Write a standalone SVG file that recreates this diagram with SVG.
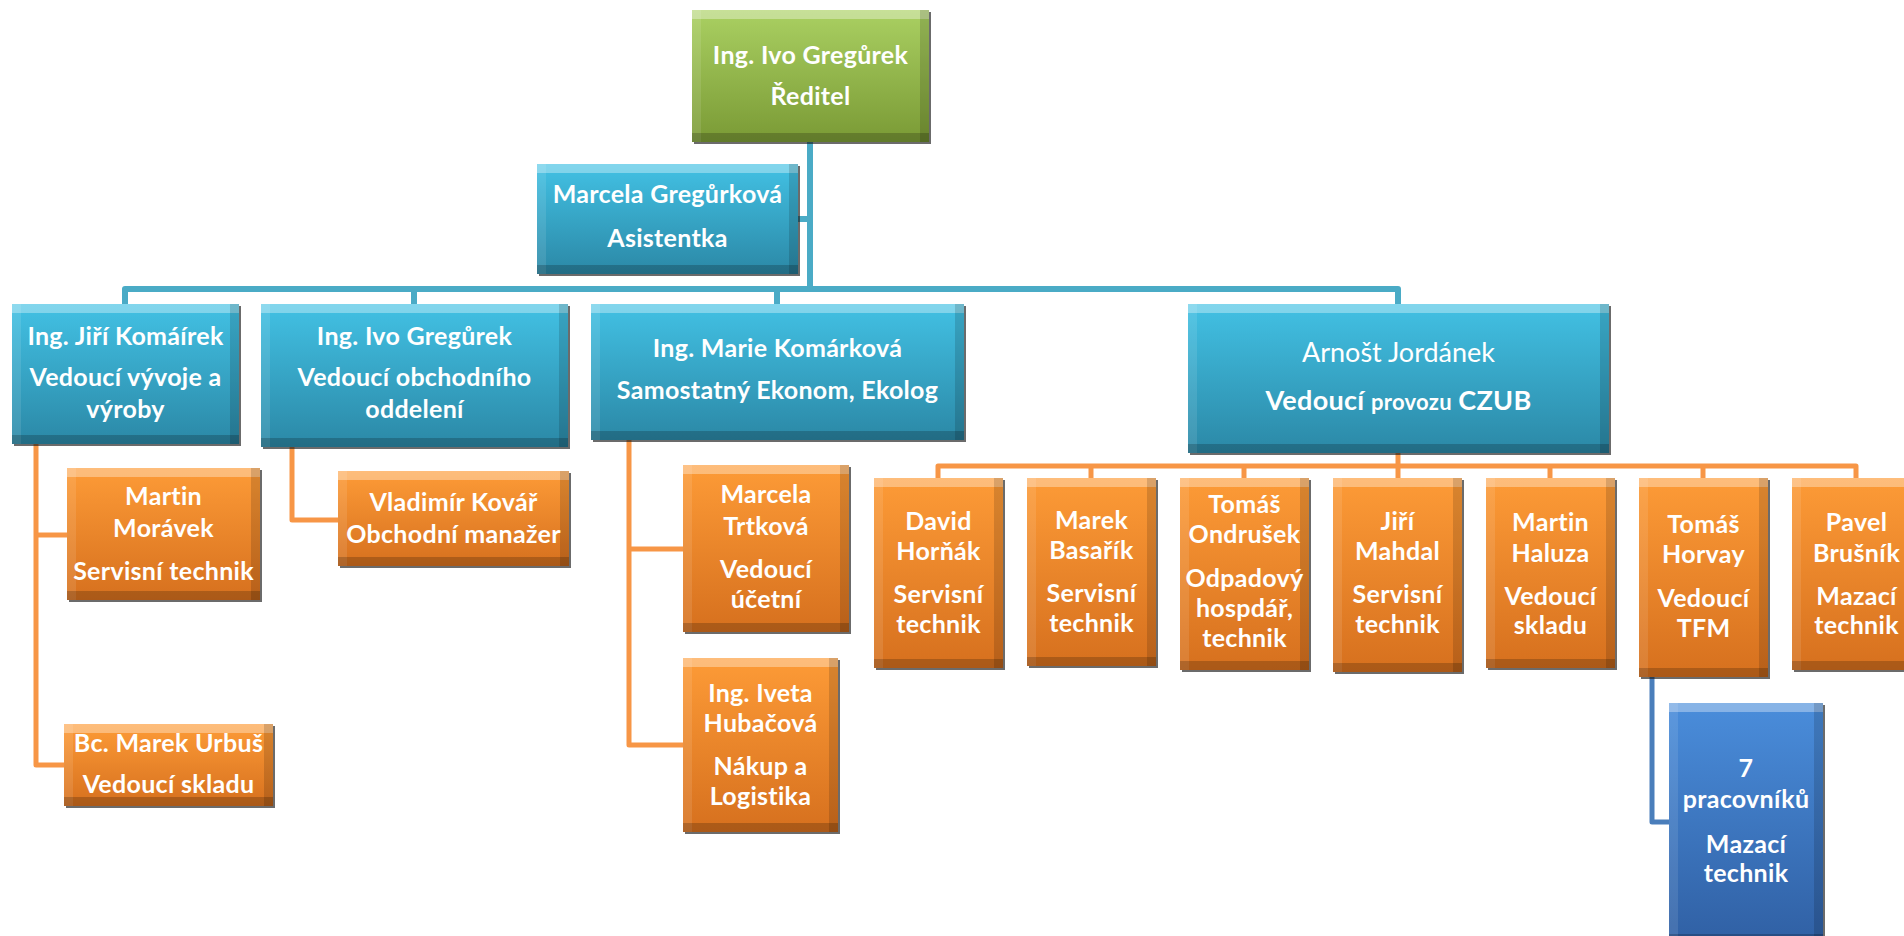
<svg xmlns="http://www.w3.org/2000/svg" width="1904" height="936" viewBox="0 0 1904 936">
  <defs>
    <linearGradient id="gGreen" x1="0" y1="0" x2="0" y2="1">
      <stop offset="0" stop-color="#aad062"/>
      <stop offset="1" stop-color="#7a9a35"/>
    </linearGradient>
    <linearGradient id="gTeal" x1="0" y1="0" x2="0" y2="1">
      <stop offset="0" stop-color="#42c1e4"/>
      <stop offset="1" stop-color="#2b88a6"/>
    </linearGradient>
    <linearGradient id="gOrange" x1="0" y1="0" x2="0" y2="1">
      <stop offset="0" stop-color="#fd9b37"/>
      <stop offset="1" stop-color="#d6701e"/>
    </linearGradient>
    <linearGradient id="gBlue" x1="0" y1="0" x2="0" y2="1">
      <stop offset="0" stop-color="#4a8ddb"/>
      <stop offset="1" stop-color="#3060a4"/>
    </linearGradient>
    <!-- bevelled edge: light top/left bands, dark bottom/right bands, thin drop edge -->
    <filter id="bevel" x="-5%" y="-5%" width="110%" height="110%" color-interpolation-filters="sRGB">
      <feOffset in="SourceAlpha" dy="9" result="sD"/>
      <feComposite in="SourceAlpha" in2="sD" operator="out" result="bandT"/>
      <feOffset in="SourceAlpha" dy="-9" result="sU"/>
      <feComposite in="SourceAlpha" in2="sU" operator="out" result="bandB"/>
      <feOffset in="SourceAlpha" dx="9" result="sR"/>
      <feComposite in="SourceAlpha" in2="sR" operator="out" result="bandL"/>
      <feOffset in="SourceAlpha" dx="-9" result="sL"/>
      <feComposite in="SourceAlpha" in2="sL" operator="out" result="bandR"/>
      <feFlood flood-color="#ffffff" flood-opacity="0.34"/>
      <feComposite in2="bandT" operator="in" result="hiT"/>
      <feFlood flood-color="#ffffff" flood-opacity="0.10"/>
      <feComposite in2="bandL" operator="in" result="hiL"/>
      <feFlood flood-color="#000000" flood-opacity="0.20"/>
      <feComposite in2="bandB" operator="in" result="shB"/>
      <feFlood flood-color="#000000" flood-opacity="0.14"/>
      <feComposite in2="bandR" operator="in" result="shR"/>
      <feOffset in="SourceAlpha" dx="1.5" dy="2" result="drop"/>
      <feFlood flood-color="#1c1c1c" flood-opacity="0.65"/>
      <feComposite in2="drop" operator="in" result="dropC"/>
      <feMerge>
        <feMergeNode in="dropC"/>
        <feMergeNode in="SourceGraphic"/>
        <feMergeNode in="hiT"/>
        <feMergeNode in="hiL"/>
        <feMergeNode in="shB"/>
        <feMergeNode in="shR"/>
      </feMerge>
    </filter>
  </defs>
  <style>
    .box { filter: url(#bevel); }
    .green { fill: url(#gGreen); }
    .teal { fill: url(#gTeal); }
    .orange { fill: url(#gOrange); }
    .blue { fill: url(#gBlue); }
    text { font-family: Lato, "Open Sans", "DejaVu Sans", sans-serif; font-weight: bold; font-size: 25px; letter-spacing: 0.3px; fill: #ffffff; text-anchor: middle; }
    .light { font-weight: normal; font-size: 27px; letter-spacing: 0; }
    .big { font-size: 27px; }
    .small { font-size: 22px; }
    .link { fill: none; stroke-linejoin: round; stroke-linecap: butt; }
    .l1 { stroke: #4aabc6; stroke-width: 6; }
    .l2 { stroke: #f79646; stroke-width: 5; }
    .l3 { stroke: #4a7ebb; stroke-width: 5; }
  </style>
  <rect width="1904" height="936" fill="#ffffff"/>

  <g id="connectors">
    <path class="link l1" d="M810 142 V289"/>
    <path class="link l1" d="M810 219 H798"/>
    <path class="link l1" d="M125 304 V289 H1398 V304"/>
    <path class="link l1" d="M414 289 V304"/>
    <path class="link l1" d="M777 289 V304"/>

    <path class="link l2" d="M36 444 V765 H64"/>
    <path class="link l2" d="M36 535 H67"/>
    <path class="link l2" d="M292 447 V520 H338"/>
    <path class="link l2" d="M629 440 V745 H683"/>
    <path class="link l2" d="M629 549 H683"/>
    <path class="link l2" d="M1398 453 V478"/>
    <path class="link l2" d="M938 478 V466 H1856 V478"/>
    <path class="link l2" d="M1091 466 V478"/>
    <path class="link l2" d="M1244 466 V478"/>
    <path class="link l2" d="M1550 466 V478"/>
    <path class="link l2" d="M1703 466 V478"/>

    <path class="link l3" d="M1652 677 V822 H1669"/>
  </g>

  <g id="reditel">
    <rect class="box green" x="692" y="10" width="237" height="132"/>
    <text x="810.5" y="64">Ing. Ivo Gregůrek</text>
    <text x="810.5" y="105">Ředitel</text>
  </g>

  <g id="asistentka">
    <rect class="box teal" x="537" y="164" width="261" height="110"/>
    <text x="667.5" y="203">Marcela Gregůrková</text>
    <text x="667.5" y="247">Asistentka</text>
  </g>

  <g id="vyvoj">
    <rect class="box teal" x="12" y="304" width="227" height="140"/>
    <text x="125.5" y="345">Ing. Jiří Komáírek</text>
    <text x="125.5" y="386">Vedoucí vývoje a</text>
    <text x="125.5" y="418">výroby</text>
  </g>

  <g id="obchod">
    <rect class="box teal" x="261" y="304" width="307" height="143"/>
    <text x="414.5" y="345">Ing. Ivo Gregůrek</text>
    <text x="414.5" y="386">Vedoucí obchodního</text>
    <text x="414.5" y="418">oddelení</text>
  </g>

  <g id="ekonom">
    <rect class="box teal" x="591" y="304" width="373" height="136"/>
    <text x="777.5" y="357">Ing. Marie Komárková</text>
    <text x="777.5" y="399">Samostatný Ekonom, Ekolog</text>
  </g>

  <g id="provoz">
    <rect class="box teal" x="1188" y="304" width="421" height="149"/>
    <text class="light" x="1398.5" y="362">Arnošt Jordánek</text>
    <text x="1398.5" y="410"><tspan class="big">Vedoucí</tspan> <tspan class="small">provozu</tspan> <tspan class="big">CZUB</tspan></text>
  </g>

  <g id="moravek">
    <rect class="box orange" x="67" y="468" width="193" height="132"/>
    <text x="163.5" y="505">Martin</text>
    <text x="163.5" y="537">Morávek</text>
    <text x="163.5" y="580">Servisní technik</text>
  </g>

  <g id="urbus">
    <rect class="box orange" x="64" y="724" width="209" height="82"/>
    <text x="168.5" y="752">Bc. Marek Urbuš</text>
    <text x="168.5" y="793">Vedoucí skladu</text>
  </g>

  <g id="kovar">
    <rect class="box orange" x="338" y="471" width="231" height="95"/>
    <text x="453.5" y="511">Vladimír Kovář</text>
    <text x="453.5" y="543">Obchodní manažer</text>
  </g>

  <g id="trtkova">
    <rect class="box orange" x="683" y="465" width="166" height="167"/>
    <text x="766" y="503">Marcela</text>
    <text x="766" y="535">Trtková</text>
    <text x="766" y="578">Vedoucí</text>
    <text x="766" y="608">účetní</text>
  </g>

  <g id="hubacova">
    <rect class="box orange" x="683" y="658" width="155" height="174"/>
    <text x="760.5" y="702">Ing. Iveta</text>
    <text x="760.5" y="732">Hubačová</text>
    <text x="760.5" y="775">Nákup a</text>
    <text x="760.5" y="805">Logistika</text>
  </g>

  <g id="hornak">
    <rect class="box orange" x="874" y="478" width="129" height="190"/>
    <text x="938.5" y="530">David</text>
    <text x="938.5" y="560">Horňák</text>
    <text x="938.5" y="603">Servisní</text>
    <text x="938.5" y="633">technik</text>
  </g>

  <g id="basarik">
    <rect class="box orange" x="1027" y="478" width="129" height="188"/>
    <text x="1091.5" y="529">Marek</text>
    <text x="1091.5" y="559">Basařík</text>
    <text x="1091.5" y="602">Servisní</text>
    <text x="1091.5" y="632">technik</text>
  </g>

  <g id="ondrusek">
    <rect class="box orange" x="1180" y="478" width="129" height="192"/>
    <text x="1244.5" y="513">Tomáš</text>
    <text x="1244.5" y="543">Ondrušek</text>
    <text x="1244.5" y="587">Odpadový</text>
    <text x="1244.5" y="617">hospdář,</text>
    <text x="1244.5" y="647">technik</text>
  </g>

  <g id="mahdal">
    <rect class="box orange" x="1333" y="478" width="129" height="194"/>
    <text x="1397.5" y="530">Jiří</text>
    <text x="1397.5" y="560">Mahdal</text>
    <text x="1397.5" y="603">Servisní</text>
    <text x="1397.5" y="633">technik</text>
  </g>

  <g id="haluza">
    <rect class="box orange" x="1486" y="478" width="129" height="190"/>
    <text x="1550.5" y="531">Martin</text>
    <text x="1550.5" y="562">Haluza</text>
    <text x="1550.5" y="605">Vedoucí</text>
    <text x="1550.5" y="634">skladu</text>
  </g>

  <g id="horvay">
    <rect class="box orange" x="1639" y="478" width="129" height="199"/>
    <text x="1703.5" y="533">Tomáš</text>
    <text x="1703.5" y="563">Horvay</text>
    <text x="1703.5" y="607">Vedoucí</text>
    <text x="1703.5" y="637">TFM</text>
  </g>

  <g id="brusnik">
    <rect class="box orange" x="1792" y="478" width="129" height="192"/>
    <text x="1856.5" y="531">Pavel</text>
    <text x="1856.5" y="562">Brušník</text>
    <text x="1856.5" y="605">Mazací</text>
    <text x="1856.5" y="634">technik</text>
  </g>

  <g id="mazaci">
    <rect class="box blue" x="1669" y="703" width="154" height="240"/>
    <text x="1746" y="777">7</text>
    <text x="1746" y="808">pracovníků</text>
    <text x="1746" y="853">Mazací</text>
    <text x="1746" y="882">technik</text>
  </g>
</svg>
